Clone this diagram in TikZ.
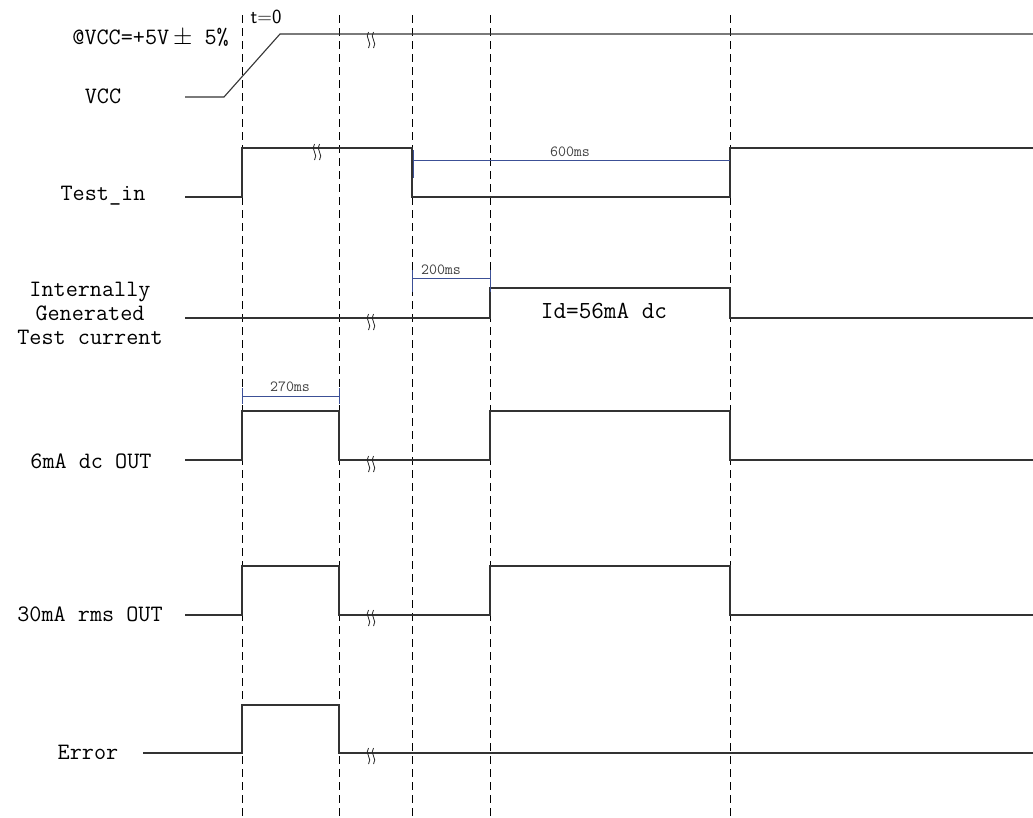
\documentclass[tikz,border=0pt]{standalone}
\usepackage{fontspec}
\usepackage{amssymb}
\begin{document}
\begin{tikzpicture}[x=1pt, y=-1pt, font=\ttfamily,
	sig/.style={draw=black!80, line width=1.1pt},
	guide/.style={draw=black, line width=0.8pt, dash pattern=on 8pt off 5pt},
	dim/.style={draw=blue!50!black, line width=0.7pt},
	lbl/.style={font=\fontsize{23.5}{24}\selectfont\ttfamily, align=center},
	dimlbl/.style={font=\fontsize{15.5}{17}\selectfont\ttfamily, text=black!75},
	brk/.pic={\draw[black!85, line width=0.8pt] (-3.5,-8) .. controls (-8,-3) and (1,3) .. (-3.5,8)
		(1.5,-8) .. controls (-3,-3) and (6,3) .. (1.5,8);}]
	\definecolor{dimblue}{RGB}{60, 80, 150}
	\useasboundingbox (0,0) rectangle (1033,817);

	% 虚线时间标记
	\foreach \t in {242,339,412,490,730}
		\draw[guide] (\t,15) -- (\t,817);

	% 信号名称
	\node[lbl, anchor=east, inner sep=0pt] (vccset) at (229,37) {@VCC=+5V\,$\pm$ 5\%};
	\node[lbl] (vcc) at (103,96) {VCC};
	\node[lbl, font=\fontsize{20}{23}\selectfont\sffamily] (tzero) at (266,17) {t=0};
	\node[lbl] (testin) at (103,196) {Test\_in};
	\node[lbl] (itc) at (90,313) {Internally\\Generated\\Test current};
	\node[lbl] (sixma) at (91,461) {6mA dc OUT};
	\node[lbl] (thirtyma) at (90,614) {30mA rms OUT};
	\node[lbl] (err) at (88,752) {Error};

	% VCC
	\draw[sig] (185,97) -- (224,97) -- (280,34) -- (1033,34);
	\pic at (372,40) {brk};

	% Test_in
	\draw[sig] (185,197) -- (242,197) -- (242,148) -- (412,148) -- (412,197)
		-- (730,197) -- (730,148) -- (1033,148);
	\pic at (318,152) {brk};
	\draw[dim, draw=dimblue] (413,160) -- (730,160);
	\draw[dim, draw=dimblue] (413,150) -- (413,178);
	\node[dimlbl] (t600) at (570,152) {600ms};

	% Internally generated test current
	\draw[sig] (185,318) -- (490,318) -- (490,288) -- (730,288) -- (730,318) -- (1033,318);
	\pic at (372,322) {brk};
	\draw[dim, draw=dimblue] (412,278) -- (490,278);
	\draw[dim, draw=dimblue] (412,270) -- (412,292) (490,270) -- (490,292);
	\node[dimlbl] (t200) at (441,270) {200ms};
	\node[lbl, font=\fontsize{24.5}{26}\selectfont\ttfamily] (idc) at (604,311) {Id=56mA dc};

	% 6mA dc OUT
	\draw[sig] (185,460) -- (242,460) -- (242,411) -- (339,411) -- (339,460) -- (490,460)
		-- (490,411) -- (730,411) -- (730,460) -- (1033,460);
	\pic at (372,464) {brk};
	\draw[dim, draw=dimblue] (242,396) -- (339,396);
	\draw[dim, draw=dimblue] (242,388) -- (242,404) (339,388) -- (339,404);
	\node[dimlbl] (t270) at (290,387) {270ms};

	% 30mA rms OUT
	\draw[sig] (185,615) -- (242,615) -- (242,566) -- (339,566) -- (339,615) -- (490,615)
		-- (490,566) -- (730,566) -- (730,615) -- (1033,615);
	\pic at (372,618) {brk};

	% Error
	\draw[sig] (143,753) -- (242,753) -- (242,705) -- (339,705) -- (339,753) -- (1033,753);
	\pic at (372,756) {brk};
\end{tikzpicture}
\end{document}
